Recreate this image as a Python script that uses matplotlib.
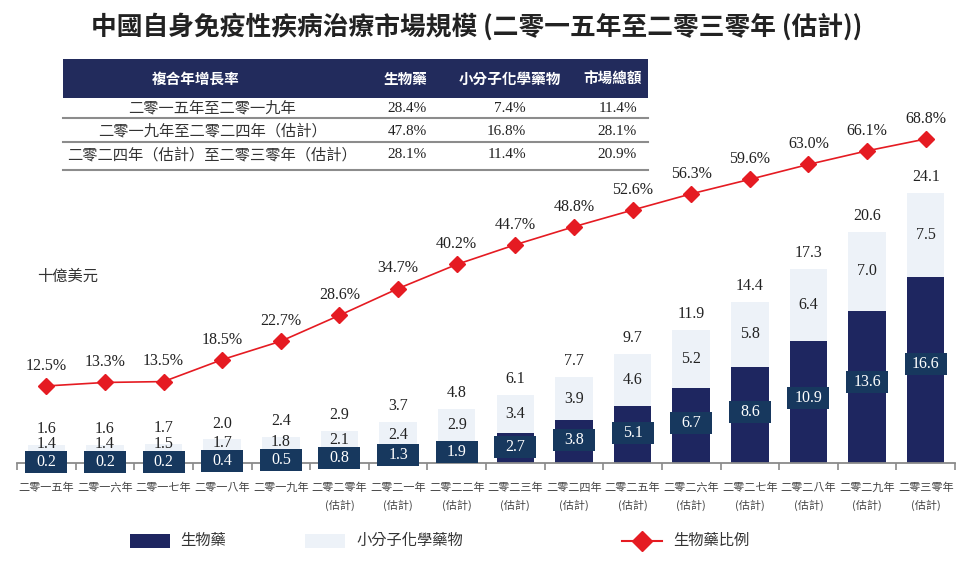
import matplotlib
matplotlib.use("Agg")
import matplotlib.pyplot as plt
from matplotlib.patches import Rectangle
from matplotlib.lines import Line2D
import numpy as np

# ---------------- data ----------------
years = ["二零一五年", "二零一六年", "二零一七年", "二零一八年", "二零一九年",
         "二零二零年\n(估計)", "二零二一年\n(估計)", "二零二二年\n(估計)", "二零二三年\n(估計)",
         "二零二四年\n(估計)", "二零二五年\n(估計)", "二零二六年\n(估計)", "二零二七年\n(估計)",
         "二零二八年\n(估計)", "二零二九年\n(估計)", "二零三零年\n(估計)"]
biologics = [0.2, 0.2, 0.2, 0.4, 0.5, 0.8, 1.3, 1.9, 2.7, 3.8, 5.1, 6.7, 8.6, 10.9, 13.6, 16.6]
small_molecule = [1.4, 1.4, 1.5, 1.7, 1.8, 2.1, 2.4, 2.9, 3.4, 3.9, 4.6, 5.2, 5.8, 6.4, 7.0, 7.5]
totals = [1.6, 1.6, 1.7, 2.0, 2.4, 2.9, 3.7, 4.8, 6.1, 7.7, 9.7, 11.9, 14.4, 17.3, 20.6, 24.1]
bio_share = [12.5, 13.3, 13.5, 18.5, 22.7, 28.6, 34.7, 40.2, 44.7, 48.8, 52.6, 56.3, 59.6, 63.0, 66.1, 68.8]

table_header = ["複合年增長率", "生物藥", "小分子化學藥物", "市場總額"]
table_periods = ["二零一五年至二零一九年", "二零一九年至二零二四年（估計）", "二零二四年（估計）至二零三零年（估計）"]
cagr_bio = ["28.4%", "47.8%", "28.1%"]
cagr_small = ["7.4%", "16.8%", "11.4%"]
cagr_total = ["11.4%", "28.1%", "20.9%"]

title = "中國自身免疫性疾病治療市場規模 (二零一五年至二零三零年 (估計))"
unit_label = "十億美元"
legend_labels = ["生物藥", "小分子化學藥物", "生物藥比例"]

# ---------------- style ----------------
NAVY = "#1e2660"
BOX = "#17385e"
LIGHT = "#edf2f8"
RED = "#e51b22"
GRAY = "#8a8a8a"
TXT = "#222222"
SERIF = ["Liberation Serif", "Noto Sans CJK TC"]
SANS = ["Noto Sans CJK TC", "DejaVu Sans"]

W, H = 971, 562
fig = plt.figure(figsize=(W / 100, H / 100), dpi=100)

def fx(px):
    return px / W

def fy(py):
    return 1 - py / H

# axes: baseline at y=463 px, top at y=130 px, x from 17 to 955 px
ax = fig.add_axes([fx(17), fy(463), fx(955) - fx(17), fy(130) - fy(463)])
x = np.arange(len(years))
bw = 0.64
ax.bar(x, biologics, width=bw, color=NAVY, zorder=2)
ax.bar(x, small_molecule, bottom=biologics, width=bw, color=LIGHT, zorder=2)
ax.set_xlim(-0.5, len(years) - 0.5)
ax.set_ylim(0, 29.73)

# label box size (in pixels -> data units)
px_per_x = 938 / len(years)
px_per_y = 333 / 29.73
box_w = 42 / px_per_x
box_h = 22 / px_per_y

for i in range(len(years)):
    b = biologics[i]
    s = small_molecule[i]
    yc = b * 0.53
    ax.add_patch(Rectangle((x[i] - box_w / 2, yc - box_h / 2), box_w, box_h,
                           fc=BOX, ec="none", zorder=4, clip_on=False))
    ax.text(x[i], yc, f"{b:.1f}", ha="center", va="center", color="white",
            fontsize=11.5, family=SERIF, zorder=5)
    ymid = max(b + s / 2, b * 0.53 + 1.6)
    ax.text(x[i], ymid, f"{s:.1f}", ha="center", va="center", color=TXT,
            fontsize=11.5, family=SERIF, zorder=4)
    ax.annotate(f"{totals[i]:.1f}", (x[i], b + s), xytext=(0, 11.5),
                textcoords="offset points", ha="center", va="center",
                color=TXT, fontsize=11.5, family=SERIF, zorder=4)

for sp in ["top", "left", "right"]:
    ax.spines[sp].set_visible(False)
ax.spines["bottom"].set_color(GRAY)
ax.spines["bottom"].set_linewidth(1.3)
ax.spines["bottom"].set_zorder(3)
ax.set_yticks([])
ax.set_xticks(x)
ax.set_xticklabels(years, fontsize=8, family=SANS, color="#444444", linespacing=1.75)
ax.set_xticks(np.arange(-0.5, len(years), 1.0), minor=True)
ax.tick_params(axis="x", which="major", length=0, pad=14)
ax.tick_params(axis="x", which="minor", length=5, width=1.2, color=GRAY, direction="out")

ax2 = ax.twinx()
ax2.set_ylim(-5.06, 70.85)
ax2.plot(x, bio_share, color=RED, lw=1.2, marker="D", ms=8, mec=RED, mfc=RED, zorder=6)
for i in range(len(years)):
    ax2.annotate(f"{bio_share[i]:.1f}%", (x[i], bio_share[i]), xytext=(0, 14.5),
                 textcoords="offset points", ha="center", va="center",
                 color=TXT, fontsize=11.5, family=SERIF)
ax2.set_axis_off()

# ---------------- title & unit ----------------
fig.text(fx(477), fy(27), title, ha="center", va="center", fontsize=18.5,
         family=SANS, fontweight="bold", color="#222222")
fig.text(fx(37), fy(277), unit_label, ha="left", va="center", fontsize=11,
         family=SERIF, color="#333333")

# ---------------- table ----------------
fig.patches.append(Rectangle((fx(63), fy(98)), fx(648) - fx(63), fy(59) - fy(98),
                             transform=fig.transFigure, fc="#222b5c", ec="none"))
hdr_x = [196, 405, 510, 613]
for hx, h in zip(hdr_x, table_header):
    fig.text(fx(hx), fy(79), h, ha="center", va="center", fontsize=10.5,
             family=SANS, fontweight="bold", color="white")
row_y = [108, 131.5, 155]
line_y = [118, 142, 170]
for ly in line_y:
    fig.add_artist(Line2D([fx(63), fx(648)], [fy(ly), fy(ly)], transform=fig.transFigure,
                          color="#8c8c8c", lw=1.5))
for ry, per, a, b, c in zip(row_y, table_periods, cagr_bio, cagr_small, cagr_total):
    fig.text(fx(212), fy(ry), per, ha="center", va="center", fontsize=11,
             family=SERIF, color="#333333")
    fig.text(fx(427), fy(ry), a, ha="right", va="center", fontsize=11, family=SERIF, color=TXT)
    fig.text(fx(526), fy(ry), b, ha="right", va="center", fontsize=11, family=SERIF, color=TXT)
    fig.text(fx(637), fy(ry), c, ha="right", va="center", fontsize=11, family=SERIF, color=TXT)

# ---------------- legend ----------------
ly = 541
fig.patches.append(Rectangle((fx(130), fy(ly + 7)), fx(40), 14 / H,
                             transform=fig.transFigure, fc=NAVY, ec="none"))
fig.text(fx(180), fy(ly), legend_labels[0], ha="left", va="center", fontsize=11,
         family=SERIF, color="#333333")
fig.patches.append(Rectangle((fx(305), fy(ly + 7)), fx(40), 14 / H,
                             transform=fig.transFigure, fc=LIGHT, ec="none"))
fig.text(fx(356), fy(ly), legend_labels[1], ha="left", va="center", fontsize=11,
         family=SERIF, color="#333333")
fig.add_artist(Line2D([fx(622), fx(662)], [fy(ly), fy(ly)], transform=fig.transFigure,
                      color=RED, lw=1.5))
fig.add_artist(Line2D([fx(642)], [fy(ly)], transform=fig.transFigure, color=RED,
                      marker="D", ms=10, mec=RED, mfc=RED, lw=0))
fig.text(fx(673), fy(ly), legend_labels[2], ha="left", va="center", fontsize=11,
         family=SERIF, color="#333333")

fig.savefig("out.png", dpi=100)
